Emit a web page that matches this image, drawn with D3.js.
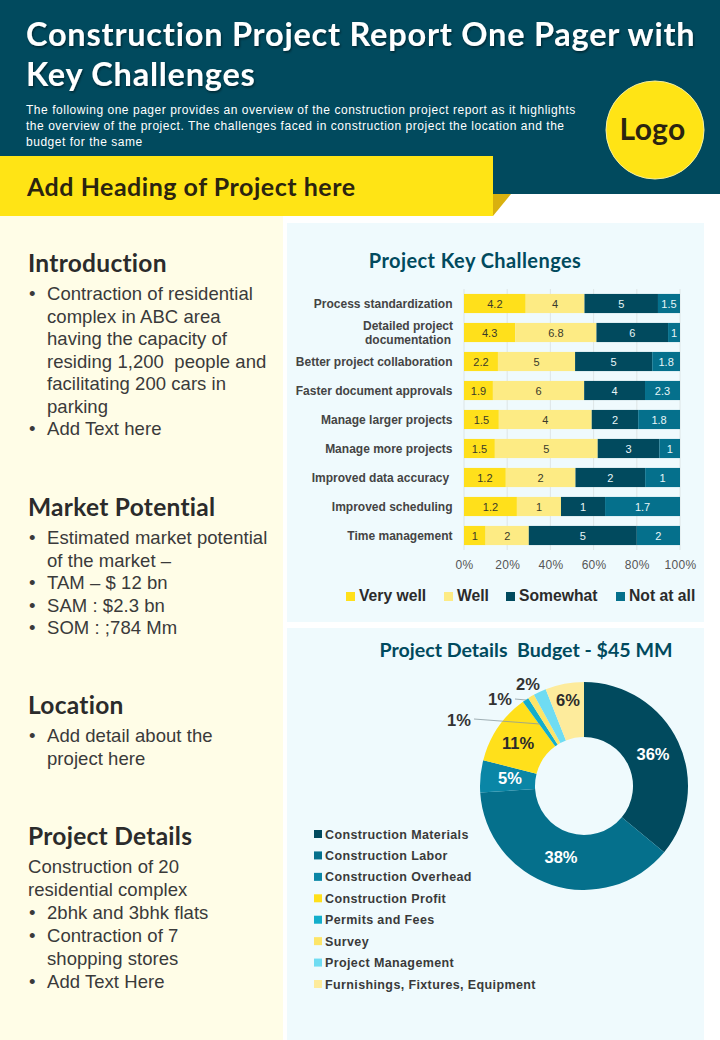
<!DOCTYPE html>
<html>
<head>
<meta charset="utf-8">
<script src="https://cdn.jsdelivr.net/npm/d3@7"></script>
<style>
body { margin: 0; background: #fff; }
svg { display: block; }
text { white-space: pre; }
.head { font-family: Lato, "Open Sans", sans-serif; font-weight: 700; }
.body { font-family: "Liberation Sans", Arial, sans-serif; }
</style>
</head>
<body>
<script>
// bar chart data
let challenges = ["Process standardization", "Detailed project\ndocumentation", "Better project collaboration", "Faster document approvals", "Manage larger projects", "Manage more projects", "Improved data accuracy ", "Improved scheduling", "Time management"];
let ratings = ["Very well", "Well", "Somewhat", "Not at all"];
let veryWell = [4.2, 4.3, 2.2, 1.9, 1.5, 1.5, 1.2, 1.2, 1];
let well = [4, 6.8, 5, 6, 4, 5, 2, 1, 2];
let somewhat = [5, 6, 5, 4, 2, 3, 2, 1, 5];
let notAtAll = [1.5, 1, 1.8, 2.3, 1.8, 1, 1, 1.7, 2];
let ratingColors = ["#ffe01b", "#fdeb84", "#014a5e", "#05708c"];
let ratingText = ["#3a3a2a", "#3a3a2a", "#e8f6f8", "#e8f6f8"];

// donut data
let budgetItems = ["Construction Materials", "Construction Labor", "Construction Overhead", "Construction Profit", "Permits and Fees", "Survey", "Project Management", "Furnishings, Fixtures, Equipment"];
let budgetShare = [36, 38, 5, 11, 1, 1, 2, 6];
let budgetColors = ["#014a5e", "#05708c", "#0a86a6", "#ffe01b", "#13aecb", "#fde568", "#6fdcf2", "#fdeb9c"];

// page text, "-" lines have no bullet and no indent, "" lines are indented only
let titleLines = ["Construction Project Report One Pager with", "Key Challenges"];
let introLines = ["The following one pager provides an overview of the construction project report as it highlights", "the overview of the project. The challenges faced in construction project the location and the", "budget for the same"];
let sectionHeads = ["Introduction", "Market Potential", "Location", "Project Details"];
let sectionLines = [
    [["•", "Contraction of residential"], ["", "complex in ABC area"], ["", "having the capacity of"], ["", "residing 1,200  people and"], ["", "facilitating 200 cars in"], ["", "parking"], ["•", "Add Text here"]],
    [["•", "Estimated market potential"], ["", "of the market –"], ["•", "TAM – $ 12 bn"], ["•", "SAM : $2.3 bn"], ["•", "SOM : ;784 Mm"]],
    [["•", "Add detail about the"], ["", "project here"]],
    [["-", "Construction of 20"], ["-", "residential complex"], ["•", "2bhk and 3bhk flats"], ["•", "Contraction of 7"], ["", "shopping stores"], ["•", "Add Text Here"]]
];

let svg = d3.select("body").append("svg").attr("width", 720).attr("height", 1040);
let defs = svg.append("defs");
let shadow = defs.append("filter").attr("id", "titleShadow");
shadow.append("feDropShadow").attr("dx", 1).attr("dy", 1.5).attr("stdDeviation", 1).attr("flood-color", "#000").attr("flood-opacity", 0.5);

// backgrounds
svg.append("rect").attr("width", 720).attr("height", 194).attr("fill", "#014a5e");
svg.append("rect").attr("y", 216).attr("width", 283).attr("height", 824).attr("fill", "#fffde7");
svg.append("rect").attr("x", 287).attr("y", 223).attr("width", 417).attr("height", 399).attr("fill", "#effafd");
svg.append("rect").attr("x", 287).attr("y", 628).attr("width", 417).attr("height", 412).attr("fill", "#effafd");
svg.append("polygon").attr("points", "493,194 511,194 493,216").attr("fill", "#d9b10f");
svg.append("rect").attr("y", 156).attr("width", 493).attr("height", 60).attr("fill", "#ffe415");

// header text
svg.append("g").selectAll("text").data(titleLines).join("text")
    .attr("class", "head")
    .attr("x", 26)
    .attr("y", (d, i) => 46 + i * 40)
    .attr("font-size", 32.5)
    .attr("letter-spacing", 0.77)
    .attr("fill", "#fff")
    .attr("filter", "url(#titleShadow)")
    .text(d => d);
svg.append("g").selectAll("text").data(introLines).join("text")
    .attr("class", "body")
    .attr("x", 26)
    .attr("y", (d, i) => 114 + i * 16)
    .attr("font-size", 12)
    .attr("letter-spacing", 0.53)
    .attr("fill", "#fff")
    .text(d => d);
svg.append("text").attr("class", "head").attr("x", 27).attr("y", 196).attr("font-size", 25)
    .attr("letter-spacing", 0.52).attr("fill", "#2b2410").text("Add Heading of Project here");
svg.append("circle").attr("cx", 655).attr("cy", 130).attr("r", 49).attr("fill", "#ffe415").attr("stroke", "#f6efa0").attr("stroke-width", 1);
svg.append("text").attr("class", "head").attr("x", 652.5).attr("y", 140).attr("text-anchor", "middle").attr("font-size", 30)
    .attr("letter-spacing", 0.3).attr("fill", "#2b2410").text("Logo");

// left column
let sectionY = [272, 516, 714, 845];
let sectionStep = [22.5, 22.5, 22.5, 22.9];
let left = svg.append("g");
sectionHeads.forEach((head, si) => {
    left.append("text").attr("class", "head").attr("x", 28).attr("y", sectionY[si]).attr("font-size", 24.5)
        .attr("letter-spacing", 0.28).attr("fill", "#2b2b2b").text(head);
    sectionLines[si].forEach((l, i) => {
        let ly = sectionY[si] + 28.3 + i * sectionStep[si];
        if (l[0] === "•") {
            left.append("text").attr("class", "body").attr("x", 29).attr("y", ly).attr("font-size", 18.5).attr("fill", "#3a3a3a").text("•");
        }
        left.append("text").attr("class", "body").attr("x", l[0] === "-" ? 28 : 47).attr("y", ly).attr("font-size", 18.5)
            .attr("letter-spacing", 0.05).attr("fill", "#3a3a3a").text(l[1]);
    });
});

// stacked bars
svg.append("text").attr("class", "head").attr("x", 475).attr("y", 268).attr("text-anchor", "middle").attr("font-size", 20)
    .attr("letter-spacing", 0.42).attr("fill", "#014a5e").text("Project Key Challenges");

let x = d3.scaleLinear().domain([0, 1]).range([464, 680]);
let y = d3.scaleBand().domain(challenges).range([289, 550]).paddingInner(0.34).paddingOuter(0.17);

let rows = challenges.map((c, i) => ({name: c, "Very well": veryWell[i], "Well": well[i], "Somewhat": somewhat[i], "Not at all": notAtAll[i]}));
let stacked = d3.stack().keys(ratings).offset(d3.stackOffsetExpand)(rows);

let xAxis = svg.append("g").attr("transform", "translate(0,550)")
    .call(d3.axisBottom(x).tickValues([0, 0.2, 0.4, 0.6, 0.8, 1]).tickFormat(d3.format(".0%")).tickSize(0).tickPadding(10));
xAxis.select(".domain").remove();
xAxis.selectAll("text").attr("font-family", "Liberation Sans").attr("font-size", 12).attr("letter-spacing", 0.3).attr("fill", "#555");

svg.append("g").selectAll("line").data(x.ticks(5)).join("line")
    .attr("x1", d => x(d)).attr("x2", d => x(d))
    .attr("y1", 289).attr("y2", 550)
    .attr("stroke", "#d9dfe0").attr("stroke-width", 0.8);

let series = svg.append("g").selectAll("g").data(stacked).join("g").attr("fill", (d, i) => ratingColors[i]);
series.selectAll("rect").data(d => d).join("rect")
    .attr("x", d => x(d[0]))
    .attr("y", d => y(d.data.name))
    .attr("width", d => x(d[1]) - x(d[0]))
    .attr("height", y.bandwidth());
series.each(function (s, si) {
    d3.select(this).selectAll("text").data(s).join("text")
        .attr("class", "body")
        .attr("x", d => (x(d[0]) + x(d[1])) / 2)
        .attr("y", d => y(d.data.name) + y.bandwidth() / 2 + 4)
        .attr("text-anchor", "middle")
        .attr("font-size", 11)
        .attr("fill", ratingText[si])
        .text(d => d.data[s.key]);
});

let catLabels = svg.append("g").selectAll("text").data(challenges).join("text")
    .attr("class", "body")
    .attr("font-size", 12)
    .attr("font-weight", 700)
    .attr("fill", "#444")
    .attr("text-anchor", d => d.includes("\n") ? "middle" : "end");
catLabels.each(function (c) {
    let parts = c.split("\n");
    let cy = y(c) + y.bandwidth() / 2;
    d3.select(this).selectAll("tspan").data(parts).join("tspan")
        .attr("x", parts.length > 1 ? 408 : 452.5)
        .attr("y", (d, i) => cy + 4 + (i - (parts.length - 1) / 2) * 14)
        .text(d => d);
});

let legendX = [346, 444, 506, 616];
let legend = svg.append("g").selectAll("g").data(ratings).join("g")
    .attr("transform", (d, i) => `translate(${legendX[i]},595)`);
legend.append("rect").attr("y", -3).attr("width", 9).attr("height", 9).attr("fill", (d, i) => ratingColors[i]);
legend.append("text").attr("class", "body").attr("x", 13).attr("y", 6).attr("font-size", 15.7).attr("font-weight", 700)
    .attr("fill", "#2b2b2b").text(d => d);

// donut
svg.append("text").attr("class", "head").attr("x", 526).attr("y", 657).attr("text-anchor", "middle").attr("font-size", 19.6)
    .attr("fill", "#014a5e").text("Project Details  Budget - $45 MM");

let pie = d3.pie().sort(null)(budgetShare);
let arc = d3.arc().innerRadius(49).outerRadius(104);
let donut = svg.append("g").attr("transform", "translate(584,786)");
donut.selectAll("path").data(pie).join("path")
    .attr("d", arc)
    .attr("fill", (d, i) => budgetColors[i]);

// offsets from the centre, slices that are too thin get a leader line
let labelPos = [[69, -32], [-23, 71], [-74, -8], [-66, -43], [-125, -66], [-84, -87], [-56, -102], [-16, -86]];
let labelColor = ["#fff", "#fff", "#fff", "#2b2b2b", "#333", "#333", "#333", "#2b2b2b"];
donut.selectAll("text").data(pie).join("text")
    .attr("class", "body")
    .attr("x", (d, i) => labelPos[i][0])
    .attr("y", (d, i) => labelPos[i][1])
    .attr("text-anchor", "middle")
    .attr("dy", 6)
    .attr("font-size", 16.5)
    .attr("font-weight", 700)
    .attr("fill", (d, i) => labelColor[i])
    .text(d => d.data + "%");
let leaderEnds = [[[-110, -67], [-44, -62]], [[-69, -87], [-58, -86]]];
donut.selectAll("polyline").data(leaderEnds).join("polyline")
    .attr("points", d => d.join(" "))
    .attr("fill", "none")
    .attr("stroke", "#8a9aa0")
    .attr("stroke-width", 0.8);

let legendY = d3.scalePoint().domain(budgetItems).range([834, 984]);
let budgetLegend = svg.append("g").selectAll("g").data(budgetItems).join("g")
    .attr("transform", d => `translate(314,${legendY(d)})`);
budgetLegend.append("rect").attr("y", -4).attr("width", 8).attr("height", 8).attr("fill", (d, i) => budgetColors[i]);
budgetLegend.append("text").attr("class", "body").attr("x", 11).attr("y", 4.5).attr("font-size", 12.5).attr("font-weight", 700)
    .attr("letter-spacing", 0.38).attr("fill", "#3a3a3a").text(d => d);
</script>
</body>
</html>
